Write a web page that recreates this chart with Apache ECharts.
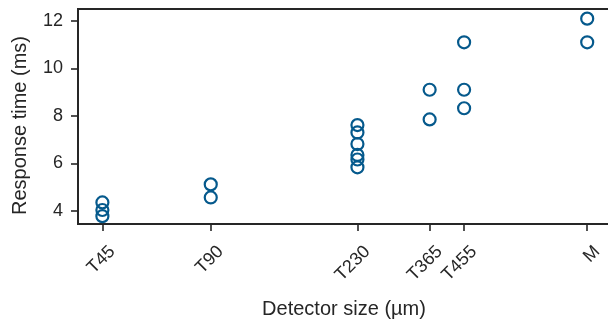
<!DOCTYPE html>
<html>
<head>
<meta charset="utf-8">
<script src="https://cdn.jsdelivr.net/npm/echarts@6/dist/echarts.min.js"></script>
<style>
html,body{margin:0;padding:0;background:#fff;}
#c{width:608px;height:322px;}
</style>
</head>
<body>
<div id="c"></div>
<script>
// Detector categories and their sizes (µm) on a log x axis
const detectorNames = ['T45', 'T90', 'T230', 'T365', 'T455', 'M'];
const detectorSizes = [45, 90, 230, 365, 455, 1000];
// Response times (ms) measured for each detector
const respT45 = [4.35, 4.03, 3.77];
const respT90 = [5.11, 4.56];
const respT230 = [7.61, 7.30, 6.81, 6.35, 6.16, 5.83];
const respT365 = [9.10, 7.85];
const respT455 = [11.10, 9.10, 8.32];
const respM = [12.10, 11.10];
const yTicks = [4, 6, 8, 10, 12];

const groups = [respT45, respT90, respT230, respT365, respT455, respM];
const points = [];
groups.forEach((g, i) => g.forEach(v => points.push([detectorSizes[i], v])));

const textColor = '#262626';
const font = "'Liberation Sans', Arial, sans-serif";

const chart = echarts.init(document.getElementById('c'), null, {renderer: 'canvas'});
chart.setOption({
  animation: false,
  backgroundColor: '#ffffff',
  grid: {
    left: 78, top: 9, width: 532, height: 215,
    show: true, borderColor: textColor, borderWidth: 2,
    backgroundColor: 'transparent',
    containLabel: false,
    outerBoundsMode: 'none'
  },
  xAxis: {
    type: 'log',
    logBase: 10,
    min: 38.5,
    max: 1157,
    name: 'Detector size (µm)',
    nameLocation: 'middle',
    nameGap: 85,
    nameTextStyle: {fontSize: 20, color: textColor, fontFamily: font, verticalAlign: 'middle'},
    axisLine: {show: false},
    splitLine: {show: false},
    minorTick: {show: false},
    axisTick: {show: true, length: 7, lineStyle: {color: textColor, width: 1.6}, customValues: detectorSizes},
    axisLabel: {
      customValues: detectorSizes,
      rotate: 45,
      align: 'right',
      verticalAlign: 'top',
      padding: [5, 0, 0, 0],
      margin: 15,
      hideOverlap: false,
      fontSize: 18,
      color: textColor,
      fontFamily: font,
      formatter: function (v) {
        for (let i = 0; i < detectorSizes.length; i++) {
          if (Math.abs(detectorSizes[i] - v) < 1e-6 * detectorSizes[i]) return detectorNames[i];
        }
        return '';
      }
    }
  },
  yAxis: {
    type: 'value',
    min: 3.439,
    max: 12.506,
    name: 'Response time (ms)',
    nameLocation: 'middle',
    nameGap: 58,
    nameRotate: 90,
    nameTextStyle: {fontSize: 20, color: textColor, fontFamily: font, verticalAlign: 'middle', padding: [0, 18, 0, 0]},
    axisLine: {show: false},
    splitLine: {show: false},
    axisTick: {show: true, length: 7, lineStyle: {color: textColor, width: 1.6}, customValues: yTicks},
    axisLabel: {
      customValues: yTicks,
      margin: 15,
      fontSize: 18,
      color: textColor,
      fontFamily: font
    }
  },
  series: [{
    type: 'scatter',
    data: points,
    symbol: 'circle',
    symbolSize: 12,
    itemStyle: {color: 'transparent', borderColor: '#05598c', borderWidth: 2.2, opacity: 1},
    emphasis: {disabled: true}
  }]
});
</script>
</body>
</html>
